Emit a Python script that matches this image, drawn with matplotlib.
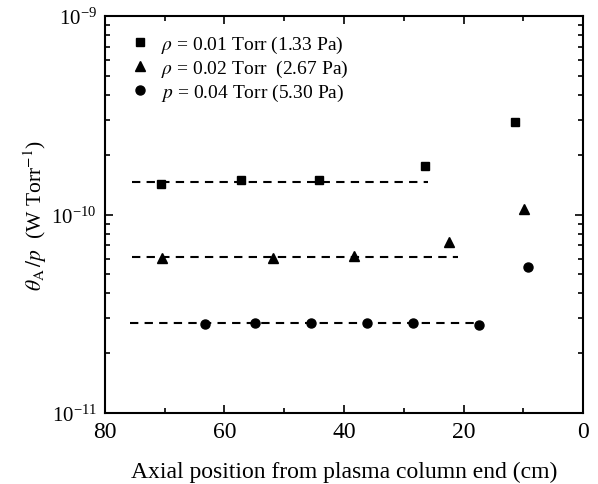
import matplotlib.pyplot as plt
import numpy as np

plt.rcParams['font.family'] = 'Liberation Serif'
plt.rcParams['mathtext.fontset'] = 'stix'

# p = 0.01 Torr
x_01 = [70.6, 57.2, 44.2, 26.4, 11.3]
y_01 = [1.43e-10, 1.49e-10, 1.49e-10, 1.75e-10, 2.92e-10]
# p = 0.02 Torr
x_02 = [70.5, 51.9, 38.3, 22.4, 9.9]
y_02 = [6.04e-11, 6.05e-11, 6.2e-11, 7.27e-11, 1.07e-10]
# p = 0.04 Torr
x_04 = [63.3, 54.9, 45.5, 36.2, 28.5, 17.4, 9.2]
y_04 = [2.81e-11, 2.83e-11, 2.84e-11, 2.84e-11, 2.84e-11, 2.78e-11, 5.44e-11]

# dashed average lines: (x_start, x_end, level)
fit_01 = (75.5, 26.0, 1.45e-10)
fit_02 = (75.5, 21.0, 6.1e-11)
fit_04 = (75.8, 18.0, 2.83e-11)

labels = [r'$\rho$ = 0.01 Torr (1.33 Pa)',
          r'$\rho$ = 0.02 Torr  (2.67 Pa)',
          r'$p$ = 0.04 Torr (5.30 Pa)']

fig = plt.figure(figsize=(5.98, 4.85), dpi=100)
ax = fig.add_axes([105/598, 1-414/485, (583-105)/598, (414-17)/485])

for fit in (fit_01, fit_02, fit_04):
    ax.plot([fit[0], fit[1]], [fit[2], fit[2]], 'k--', lw=1.5, dashes=(4, 3))

ax.plot(x_01, y_01, 'ks', ms=6, ls='none', label=labels[0])
ax.plot(x_02, y_02, 'k^', ms=7, ls='none', label=labels[1])
ax.plot(x_04, y_04, 'ko', ms=6.5, ls='none', label=labels[2])

ax.set_yscale('log')
ax.set_xlim(80, 0)
ax.set_ylim(1e-11, 1e-9)
ax.set_xticks([80, 60, 40, 20, 0])
ax.set_xticks([70, 50, 30, 10], minor=True)
ax.tick_params(which='both', direction='in', top=True, right=True)
ax.tick_params(which='major', length=6, width=1.2)
ax.tick_params(which='minor', length=3.5, width=1.2)
ax.tick_params(axis='x', labelsize=17, pad=6)
ax.tick_params(axis='y', labelsize=15, pad=6)
for s in ax.spines.values():
    s.set_linewidth(1.5)

ax.set_xlabel('Axial position from plasma column end (cm)', fontsize=17, labelpad=13)
ax.set_ylabel(r'$\theta_{\rm A}\,/p$  (W Torr$^{-1}$)', fontsize=15.5, labelpad=2)

ax.legend(loc='upper left', frameon=False, fontsize=14, handletextpad=0.45,
          handlelength=1.2, borderaxespad=0.2, labelspacing=0.15,
          bbox_to_anchor=(0.025, 0.985))

plt.savefig('out.png')
